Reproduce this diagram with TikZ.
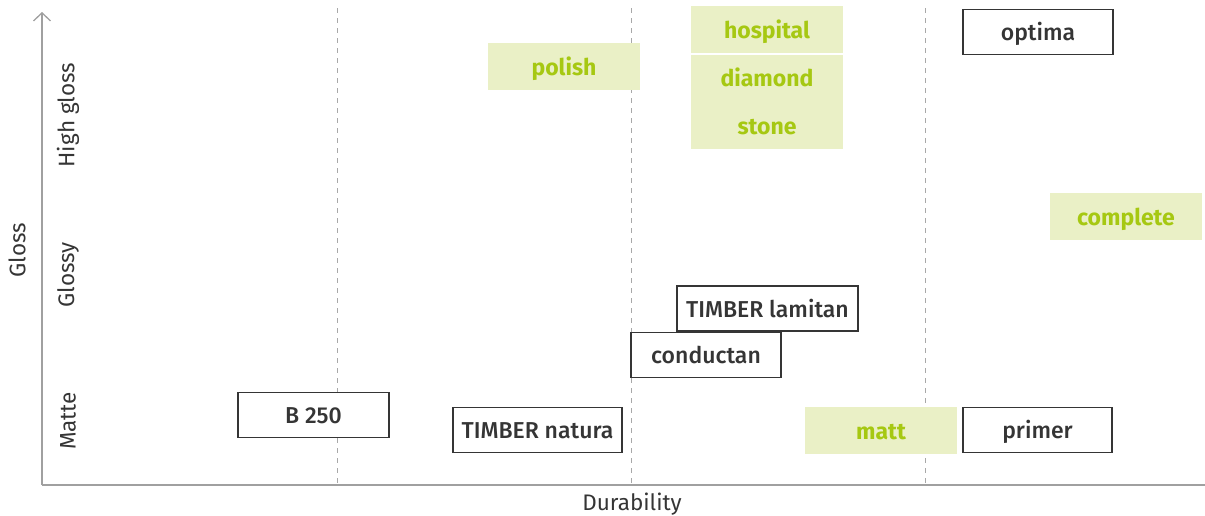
\documentclass[tikz,border=0pt]{standalone}
\usepackage{fontspec}
\setmainfont{Fira Sans}
\newfontfamily\firamed{Fira Sans Medium}
\usetikzlibrary{arrows.meta}
\definecolor{gfill}{HTML}{EAF0C6}
\definecolor{gtext}{HTML}{A6C812}
\definecolor{dtext}{HTML}{353535}
\definecolor{axisgray}{HTML}{A0A0A0}
\definecolor{dashgray}{HTML}{A8A8A8}
\tikzset{
  gbox/.style={fill=gfill, draw=none, minimum width=152pt, minimum height=47pt, inner sep=0pt,
    text=gtext, font=\fontsize{23}{24}\selectfont\bfseries, text height=17pt, text depth=0pt},
  gtxt/.style={text=gtext, font=\fontsize{23}{24}\selectfont\bfseries, text height=17pt, text depth=0pt, inner sep=0pt},
  wbox/.style={fill=white, draw=dtext, line width=1.2pt, minimum height=45pt, inner sep=0pt,
    text=dtext, font=\fontsize{23}{24}\selectfont\firamed, text height=17pt, text depth=0pt},
  axlabel/.style={text=dtext, font=\fontsize{22.5}{24}\selectfont, inner sep=0pt},
  grid/.style={draw=dashgray, line width=1pt, dash pattern=on 5pt off 5pt},
}
\begin{document}
\begin{tikzpicture}[x=1pt,y=-1pt]
\useasboundingbox (0,0) rectangle (1205,515);
% dashed grid lines
\coordinate (g1t) at (337,8); \coordinate (g1b) at (337,485);
\coordinate (g2t) at (631,8); \coordinate (g2b) at (631,485);
\coordinate (g3t) at (925,8); \coordinate (g3b) at (925,485);
\draw[grid] (g1t) -- (g1b);
\draw[grid] (g2t) -- (g2b);
\draw[grid] (g3t) -- (g3b);
% axes
\coordinate (origin) at (42,485);
\coordinate (ytop) at (42,12);
\coordinate (xend) at (1205,485);
\draw[axisgray, line width=1.3pt] (origin) -- (xend);
\draw[axisgray, line width=1.3pt, -{Straight Barb[length=8pt,width=17pt]}] (origin) -- (ytop);
% axis labels
\node[axlabel] (dur) at (632,504) {Durability};
\node[axlabel, rotate=90] (gloss) at (17,250) {Gloss};
\node[axlabel, rotate=90] (hg) at (68,115) {High gloss};
\node[axlabel, rotate=90] (gy) at (68,275) {Glossy};
\node[axlabel, rotate=90] (mt) at (68,421) {Matte};
% green boxes
\node[gbox] (polish) at (564,66.5) {polish};
\node[gbox] (hospital) at (767,29.5) {hospital};
\node[gbox, minimum height=94pt] (dstone) at (767,102) {};
\node[gtxt] (diamond) at (767,78) {diamond};
\node[gtxt] (stone) at (767,126) {stone};
\node[gbox] (complete) at (1126,216.5) {complete};
\node[gbox] (matt) at (881,430.5) {matt};
% white boxes
\node[wbox, minimum width=150pt] (optima) at (1038,32) {optima};
\node[wbox, minimum width=181pt] (lamitan) at (767.5,308.5) {TIMBER lamitan};
\node[wbox, minimum width=150pt] (conductan) at (706,355) {conductan};
\node[wbox, minimum width=151pt] (b250) at (313.5,415) {B 250};
\node[wbox, minimum width=169pt] (natura) at (537.5,430) {TIMBER natura};
\node[wbox, minimum width=149pt] (primer) at (1037.5,430) {primer};
\end{tikzpicture}
\end{document}
